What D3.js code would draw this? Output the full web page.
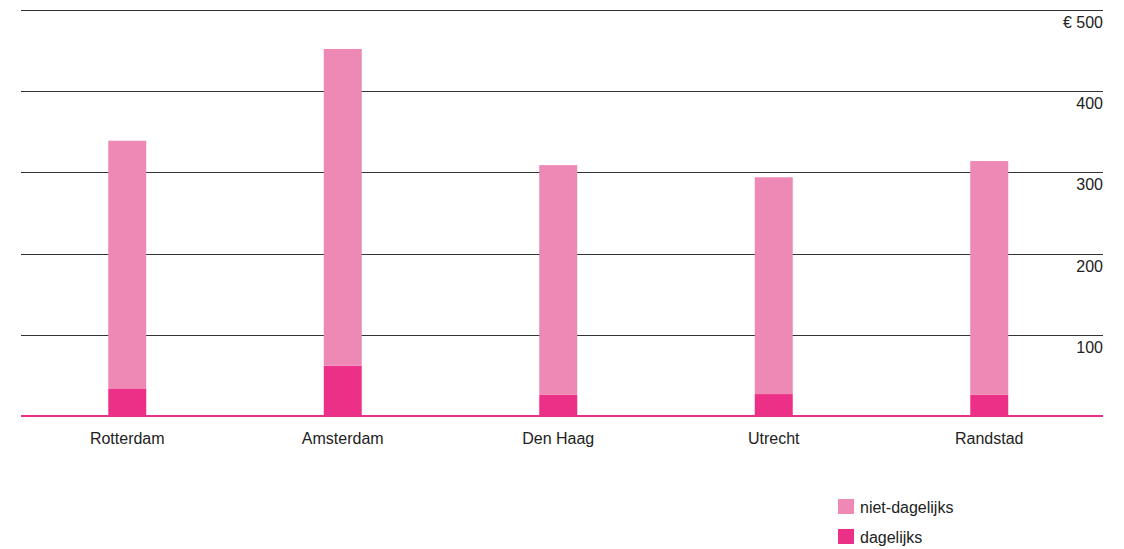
<!DOCTYPE html>
<html>
<head>
<meta charset="utf-8">
<script src="https://cdn.jsdelivr.net/npm/d3@7"></script>
<style>
  html, body { margin: 0; padding: 0; background: #fff; }
  svg { display: block; font-family: "Liberation Sans", Arial, sans-serif; }
</style>
</head>
<body>
<svg id="chart" width="1124" height="549"></svg>
<script>
// Average spending per region (euro), split into daily and non-daily purchases
const categories = ["Rotterdam", "Amsterdam", "Den Haag", "Utrecht", "Randstad"];
const dagelijks = [34, 62, 26, 27, 26];
const nietDagelijks = [305, 390, 283, 267, 288];
const seriesNames = ["dagelijks", "niet-dagelijks"];
const yTicks = [100, 200, 300, 400, 500];

const colors = { "dagelijks": "#ec2f87", "niet-dagelijks": "#ee89b5" };

const svg = d3.select("#chart");
const left = 21, right = 1103, baseY = 416, topY = 10;

const x = d3.scaleBand()
  .domain(categories)
  .range([19.5, 1097])
  .paddingInner(0.8237)
  .paddingOuter(0.8237 / 2);

const y = d3.scaleLinear().domain([0, 500]).range([baseY, topY]);

// horizontal gridlines with labels beneath, right-aligned
const grid = svg.append("g");
grid.selectAll("line").data(yTicks).join("line")
  .attr("x1", left).attr("x2", right)
  .attr("y1", d => Math.round(y(d)) + 0.5).attr("y2", d => Math.round(y(d)) + 0.5)
  .attr("stroke", "#333").attr("stroke-width", 1);
grid.selectAll("text").data(yTicks).join("text")
  .attr("x", right).attr("y", d => y(d) + 18)
  .attr("text-anchor", "end")
  .attr("font-size", 16).attr("fill", "#222")
  .text(d => d === 500 ? "€ " + d : d);

// stacked bars
const rows = categories.map((c, i) => ({ cat: c, "dagelijks": dagelijks[i], "niet-dagelijks": nietDagelijks[i] }));
const stacked = d3.stack().keys(seriesNames)(rows);

svg.append("g").selectAll("g").data(stacked).join("g")
  .attr("fill", s => colors[s.key])
  .selectAll("rect").data(s => s).join("rect")
  .attr("x", d => x(d.data.cat))
  .attr("width", x.bandwidth())
  .attr("y", d => y(d[1]))
  .attr("height", d => y(d[0]) - y(d[1]));

// baseline
svg.append("line")
  .attr("x1", left).attr("x2", right)
  .attr("y1", baseY).attr("y2", baseY)
  .attr("stroke", colors["dagelijks"]).attr("stroke-width", 2);

// category labels
svg.append("g").selectAll("text").data(categories).join("text")
  .attr("x", d => x(d) + x.bandwidth() / 2)
  .attr("y", 444)
  .attr("text-anchor", "middle")
  .attr("font-size", 16).attr("fill", "#222")
  .text(d => d);

// legend
const legendItems = ["niet-dagelijks", "dagelijks"];
const legend = svg.append("g").selectAll("g").data(legendItems).join("g")
  .attr("transform", (d, i) => `translate(838, ${499 + i * 30})`);
legend.append("rect").attr("width", 16).attr("height", 15).attr("fill", d => colors[d]);
legend.append("text").attr("x", 22).attr("y", 14)
  .attr("font-size", 16).attr("fill", "#222").text(d => d);
</script>
</body>
</html>
